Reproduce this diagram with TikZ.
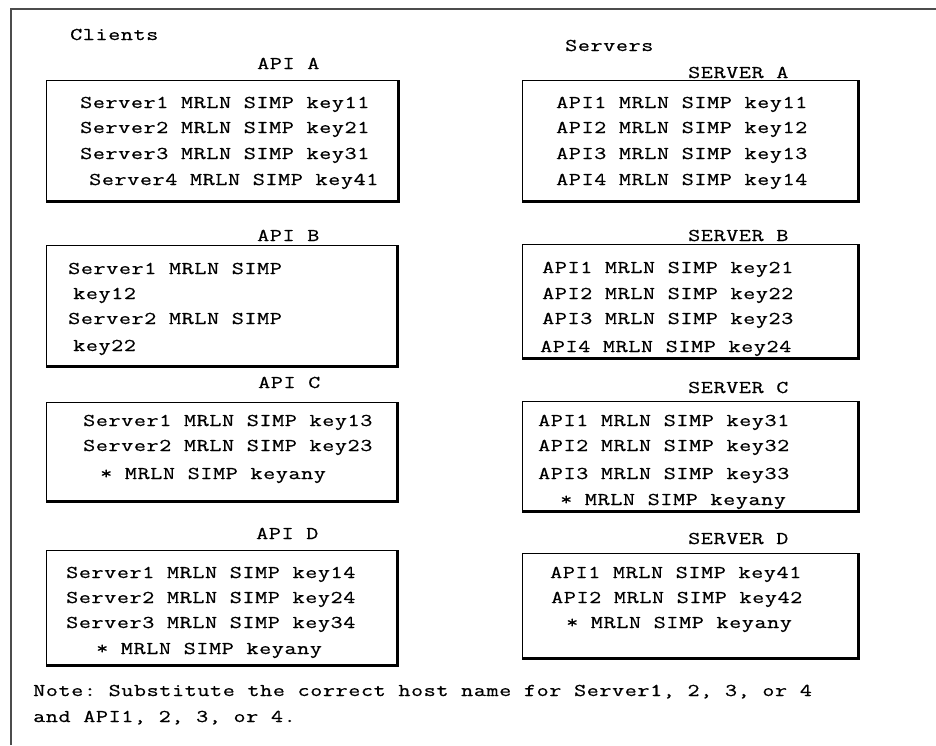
\documentclass[tikz,border=0pt]{standalone}
\usepackage{fontspec}
\setmonofont{Latin Modern Mono}[FakeStretch=1.3, LetterSpace=3.5, FakeBold=0.6]
\begin{document}
\begin{tikzpicture}[x=1pt,y=-1pt,
  txt/.style={anchor=base west, inner sep=0pt, font=\ttfamily\fontsize{18}{18}\selectfont},
  boxnode/.style={draw, line width=1.2pt, anchor=north west, inner sep=0pt},
  shadowedge/.style={line width=2.6pt},
  framestyle/.style={draw=black!70, line width=1.6pt}]
\useasboundingbox (0,0) rectangle (936,745);
\fill[white] (0,0) rectangle (936,745);
% outer frame (top and left only)
\coordinate (fa) at (11,745);
\coordinate (fb) at (11,9);
\coordinate (fc) at (936,9);
\draw[framestyle] (fa) -- (fb) -- (fc);

% headings
\node[txt] (clients) at (70,40) {Clients};
\node[txt] (servers) at (565,51) {Servers};

% ---------- API A ----------
\node[txt] (lapiA) at (257,69) {API A};
\node[boxnode, minimum width=351pt, minimum height=120pt] (boxA) at (46,80) {};
\draw[shadowedge] (boxA.north east) -- (boxA.south east) -- (boxA.south west);
\node[txt] (a1) at (80,108) {Server1 MRLN SIMP key11};
\node[txt] (a2) at (80,133) {Server2 MRLN SIMP key21};
\node[txt] (a3) at (80,159) {Server3 MRLN SIMP key31};
\node[txt] (a4) at (89,185) {Server4 MRLN SIMP key41};

% ---------- SERVER A ----------
\node[txt] (lsrvA) at (688,78) {SERVER A};
\node[boxnode, minimum width=335pt, minimum height=120pt] (sboxA) at (522,80) {};
\draw[shadowedge] (sboxA.north east) -- (sboxA.south east) -- (sboxA.south west);
\node[txt] (sa1) at (556,108) {API1 MRLN SIMP key11};
\node[txt] (sa2) at (556,133) {API2 MRLN SIMP key12};
\node[txt] (sa3) at (556,159) {API3 MRLN SIMP key13};
\node[txt] (sa4) at (556,185) {API4 MRLN SIMP key14};

% ---------- API B ----------
\node[txt] (lapiB) at (257,241) {API B};
\node[boxnode, minimum width=350pt, minimum height=120pt] (boxB) at (46,245) {};
\draw[shadowedge] (boxB.north east) -- (boxB.south east) -- (boxB.south west);
\node[txt] (b1) at (68,274) {Server1 MRLN SIMP};
\node[txt] (b2) at (73,299) {key12};
\node[txt] (b3) at (68,324) {Server2 MRLN SIMP};
\node[txt] (b4) at (73,351) {key22};

% ---------- SERVER B ----------
\node[txt] (lsrvB) at (688,241) {SERVER B};
\node[boxnode, minimum width=335pt, minimum height=113pt] (sboxB) at (522,244) {};
\draw[shadowedge] (sboxB.north east) -- (sboxB.south east) -- (sboxB.south west);
\node[txt] (sb1) at (542,273) {API1 MRLN SIMP key21};
\node[txt] (sb2) at (542,299) {API2 MRLN SIMP key22};
\node[txt] (sb3) at (542,324) {API3 MRLN SIMP key23};
\node[txt] (sb4) at (540,352) {API4 MRLN SIMP key24};

% ---------- API C ----------
\node[txt] (lapiC) at (258,388) {API C};
\node[boxnode, minimum width=350pt, minimum height=98pt] (boxC) at (46,402) {};
\draw[shadowedge] (boxC.north east) -- (boxC.south east) -- (boxC.south west);
\node[txt] (c1) at (83,426) {Server1 MRLN SIMP key13};
\node[txt] (c2) at (83,451) {Server2 MRLN SIMP key23};
\node[txt] (c3) at (100,479) {* MRLN SIMP keyany};

% ---------- SERVER C ----------
\node[txt] (lsrvC) at (688,393) {SERVER C};
\node[boxnode, minimum width=335pt, minimum height=109pt] (sboxC) at (522,401) {};
\draw[shadowedge] (sboxC.north east) -- (sboxC.south east) -- (sboxC.south west);
\node[txt] (sc1) at (538,426) {API1 MRLN SIMP key31};
\node[txt] (sc2) at (538,451) {API2 MRLN SIMP key32};
\node[txt] (sc3) at (538,479) {API3 MRLN SIMP key33};
\node[txt] (sc4) at (560,505) {* MRLN SIMP keyany};

% ---------- API D ----------
\node[txt] (lapiD) at (256,539) {API D};
\node[boxnode, minimum width=350pt, minimum height=114pt] (boxD) at (46,550) {};
\draw[shadowedge] (boxD.north east) -- (boxD.south east) -- (boxD.south west);
\node[txt] (d1) at (66,578) {Server1 MRLN SIMP key14};
\node[txt] (d2) at (66,603) {Server2 MRLN SIMP key24};
\node[txt] (d3) at (66,628) {Server3 MRLN SIMP key34};
\node[txt] (d4) at (96,654) {* MRLN SIMP keyany};

% ---------- SERVER D ----------
\node[txt] (lsrvD) at (688,544) {SERVER D};
\node[boxnode, minimum width=335pt, minimum height=104pt] (sboxD) at (522,553) {};
\draw[shadowedge] (sboxD.north east) -- (sboxD.south east) -- (sboxD.south west);
\node[txt] (sd1) at (550,578) {API1 MRLN SIMP key41};
\node[txt] (sd2) at (551,603) {API2 MRLN SIMP key42};
\node[txt] (sd3) at (566,628) {* MRLN SIMP keyany};

% ---------- Note ----------
\node[txt] (note1) at (33,696) {Note: Substitute the correct host name for Server1, 2, 3, or 4};
\node[txt] (note2) at (33,722) {and API1, 2, 3, or 4.};
\end{tikzpicture}
\end{document}
